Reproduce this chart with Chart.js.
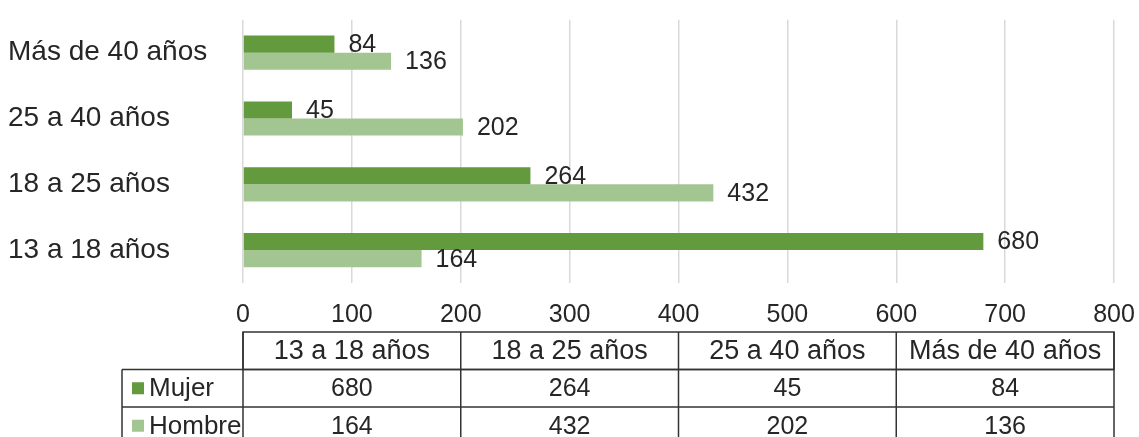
<!DOCTYPE html>
<html>
<head>
<meta charset="utf-8">
<script src="https://cdn.jsdelivr.net/npm/chart.js@4"></script>
<style>
  html, body { margin: 0; padding: 0; background: #fff; }
  #wrap { width: 1139px; height: 437px; }
</style>
</head>
<body>
<div id="wrap"><canvas id="myChart"></canvas></div>
<script>
const labels = ['13 a 18 años', '18 a 25 años', '25 a 40 años', 'Más de 40 años'];
const mujer = [680, 264, 45, 84];
const hombre = [164, 432, 202, 136];
const seriesNames = ['Mujer', 'Hombre'];
const colors = ['#639a3e', '#a3c592'];

const FONT = '"Liberation Sans", Arial, sans-serif';
const TEXT = '#262626';

// value labels right of each bar
const valueLabels = {
    id: 'valueLabels',
    afterDatasetsDraw(chart) {
        const ctx = chart.ctx;
        ctx.save();
        ctx.font = '25px ' + FONT;
        ctx.fillStyle = TEXT;
        ctx.textAlign = 'left';
        ctx.textBaseline = 'middle';
        chart.data.datasets.forEach((ds, i) => {
            chart.getDatasetMeta(i).data.forEach((bar, j) => {
                ctx.fillText(String(ds.data[j]), bar.x + 14, bar.y + 1);
            });
        });
        ctx.restore();
    }
};

// data table under the x axis
const dataTable = {
    id: 'dataTable',
    afterDraw(chart) {
        const ctx = chart.ctx;
        const area = chart.chartArea;
        const top = area.bottom + 49;
        const rowH = 37.5;
        const colW = (area.right - area.left) / labels.length;
        const legendLeft = 122;
        const rows = [mujer, hombre];

        ctx.save();
        ctx.strokeStyle = '#333';
        ctx.lineWidth = 1.5;

        // header row
        ctx.strokeRect(area.left, top, area.right - area.left, rowH);
        for (let c = 1; c < labels.length; c++) {
            const x = area.left + c * colW;
            ctx.beginPath();
            ctx.moveTo(x, top);
            ctx.lineTo(x, top + rowH * 3);
            ctx.stroke();
        }
        // series rows
        for (let r = 0; r < rows.length; r++) {
            const y = top + rowH * (r + 1);
            ctx.beginPath();
            ctx.moveTo(legendLeft, y);
            ctx.lineTo(area.right, y);
            ctx.stroke();
        }
        ctx.beginPath();
        ctx.moveTo(legendLeft, top + rowH);
        ctx.lineTo(legendLeft, top + rowH * 3);
        ctx.moveTo(area.left, top);
        ctx.lineTo(area.left, top + rowH * 3);
        ctx.moveTo(area.right, top);
        ctx.lineTo(area.right, top + rowH * 3);
        ctx.stroke();

        ctx.fillStyle = TEXT;
        ctx.textBaseline = 'middle';
        ctx.textAlign = 'center';
        ctx.font = '27px ' + FONT;
        labels.forEach((lab, c) => {
            ctx.fillText(lab, area.left + (c + 0.5) * colW, top + rowH / 2 + 1);
        });
        ctx.font = '25px ' + FONT;
        rows.forEach((vals, r) => {
            const cy = top + rowH * (r + 1.5) + 1;
            vals.forEach((v, c) => {
                ctx.fillText(String(v), area.left + (c + 0.5) * colW, cy);
            });
        });

        // legend keys
        ctx.textAlign = 'left';
        ctx.font = '26px ' + FONT;
        seriesNames.forEach((name, r) => {
            const cy = top + rowH * (r + 1.5);
            ctx.fillStyle = colors[r];
            ctx.fillRect(132, cy - 6, 12, 12);
            ctx.fillStyle = TEXT;
            ctx.fillText(name, 149, cy + 1);
        });
        ctx.restore();
    }
};

const data = {
    labels: labels,
    datasets: [{
        label: seriesNames[0],
        data: mujer,
        backgroundColor: colors[0],
        barPercentage: 1,
        categoryPercentage: 0.52
    }, {
        label: seriesNames[1],
        data: hombre,
        backgroundColor: colors[1],
        barPercentage: 1,
        categoryPercentage: 0.52
    }]
};

const config = {
    type: 'bar',
    data: data,
    options: {
        indexAxis: 'y',
        responsive: true,
        maintainAspectRatio: false,
        animation: false,
        layout: {
            padding: { top: 15, right: 25, bottom: 108, left: 8 }
        },
        plugins: {
            legend: { display: false },
            tooltip: { enabled: false }
        },
        scales: {
            x: {
                min: 0,
                max: 800,
                ticks: {
                    stepSize: 100,
                    padding: 17,
                    color: TEXT,
                    font: { family: FONT, size: 25 }
                },
                grid: { color: '#d9d9d9', lineWidth: 1.5, drawTicks: false },
                border: { display: false },
                afterFit(scale) {
                    scale.height = 46;
                    scale.paddingLeft = 0;
                    scale.paddingRight = 0;
                }
            },
            y: {
                reverse: true,
                ticks: {
                    crossAlign: 'far',
                    color: TEXT,
                    font: { family: FONT, size: 28 }
                },
                grid: { display: false },
                border: { display: false },
                afterFit(scale) { scale.width = 235; }
            }
        }
    },
    plugins: [valueLabels, dataTable]
};

const myChart = new Chart(document.getElementById('myChart'), config);
</script>
</body>
</html>
